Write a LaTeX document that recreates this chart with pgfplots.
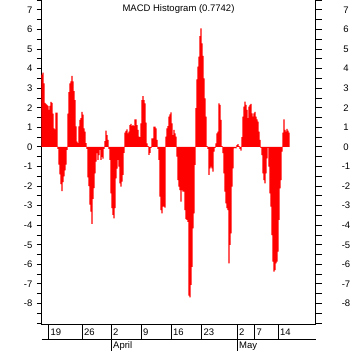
\documentclass[border=0pt]{standalone}
\usepackage{pgfplots}
\pgfplotsset{compat=1.18}
\usepackage{pgfplotstable}
\usepackage{fontspec}
\setmainfont{Liberation Sans}
\pgfplotstableread{
x y
41 3.7
42 3.7
43 3.8
44 3.25
45 2.25
46 2.2
47 2.15
48 2.1
49 1.9
50 2.1
51 2.3
52 2.25
53 1.7
54 0.95
55 0.9
56 1.75
57 1.75
58 -0.1
59 -0.9
60 -1.4
61 -1.9
62 -2.25
63 -1.8
64 -1.5
65 -1.2
66 -0.9
67 -0.15
68 1.7
69 2.8
70 3.25
71 3.35
72 3.63
73 3.35
74 2.85
75 2.4
76 1.05
77 0.27
78 0.2
79 1.05
80 1.38
81 1.47
82 1.8
83 1.65
84 0.95
85 0.78
86 0.2
87 -0.1
88 -1.55
89 -2.0
90 -2.95
91 -3.3
92 -3.93
93 -2.65
94 -2.1
95 -1.35
96 -0.75
97 -0.32
98 -0.66
99 -0.41
100 -0.15
101 -0.66
102 -0.5
103 -0.6
104 -0.1
105 0.3
106 0.83
107 0.61
108 0.36
109 -0.1
110 -0.66
111 -2.37
112 -3.13
113 -3.47
114 -3.65
115 -3.13
116 -1.6
117 -1.1
118 -0.66
119 -1.0
120 -1.86
121 -2.03
122 -1.77
123 -1.43
124 -0.3
125 0.73
126 0.82
127 0.9
128 0.7
129 0.78
130 1.12
131 1.18
132 1.07
133 1.12
134 1.07
135 1.41
136 1.41
137 1.12
138 0.87
139 0.53
140 0.5
141 1.2
142 2.4
143 2.6
144 2.4
145 2.23
146 1.24
147 0.19
148 0.05
149 -0.4
150 -0.3
151 -0.05
152 0.44
153 0.44
154 1.04
155 1.04
156 0.95
157 0.36
158 -0.1
159 -0.66
160 -2.54
161 -3.22
162 -3.39
163 -3.05
164 -3.05
165 -3.1
166 0.53
167 0.95
168 1.07
169 1.55
170 1.67
171 1.77
172 1.21
173 0.61
174 0.87
175 0.7
176 0.53
177 -0.49
178 -1.69
179 -2.03
180 -2.2
181 -2.79
182 -2.2
183 -2.28
184 -2.28
185 -3.22
186 -3.68
187 -3.73
188 -3.82
189 -7.6
190 -7.68
191 -7.05
192 -6.12
193 -4.16
194 -3.39
195 -0.92
196 1.98
197 3.46
198 4.1
199 4.62
200 5.67
201 6.06
202 5.3
203 4.65
204 3.51
205 2.49
206 1.55
207 0.05
208 -0.1
209 -1.43
210 -1.09
211 -1.0
212 -1.09
213 -1.26
214 -0.24
215 -0.05
216 0.19
217 0.7
218 0.78
219 2.23
220 2.15
221 1.38
222 0.05
223 -0.32
224 -1.35
225 -2.28
226 -2.88
227 -3.13
228 -3.22
229 -5.95
230 -5.0
231 -4.41
232 -2.03
233 -1.09
234 -0.07
235 -0.05
236 -0.07
237 0.1
238 0.15
239 0.05
240 -0.1
241 -0.19
242 0.5
243 1.55
244 2.06
245 2.32
246 2.15
247 1.89
248 1.47
249 2.06
250 2.15
251 2.2
252 1.72
253 1.55
254 1.72
255 1.8
256 1.55
257 1.41
258 1.29
259 0.78
260 0.36
261 -0.05
262 -0.41
263 -1.35
264 -1.69
265 -1.86
266 -1.35
267 -0.58
268 -0.05
269 -1.0
270 -2.37
271 -3.05
272 -4.5
273 -5.86
274 -6.37
275 -6.29
276 -5.95
277 -5.86
278 -5.35
279 -3.73
280 -2.11
281 -1.69
282 -0.24
283 0.73
284 1.41
285 0.87
286 0.78
287 0.92
288 0.83
289 0.73
}\macd

\pgfplotsset{
  common/.style={
    at={(41.5pt,26pt)}, anchor=south west, scale only axis,
    width=274pt, height=325pt,
    xmin=41.5, xmax=315.5, ymin=-9.095, ymax=7.51,
    xtick=\empty,
    ytick={-8,-7,...,7}, minor ytick={-9,-8.5,...,7.5},
    tick align=outside,
    axis line style={-, line width=1pt, black},
    every tick/.style={black, line width=1pt},
    every minor tick/.style={black, line width=1pt},
    /pgf/number format/assume math mode=true,
    yticklabel style={font=\fontsize{9.5}{11}\selectfont, inner sep=0pt},
  }
}

\begin{document}
\begin{tikzpicture}[x=1pt,y=1pt]
\path[use as bounding box] (0,0) rectangle (357,351);
\begin{axis}[common,
  axis x line*=bottom, axis y line*=left,
  major tick length=4.5pt, minor tick length=4.5pt,
  yticklabel style={anchor=east, xshift=-4.5pt},
  every axis title shift=0pt,
  title={MACD Histogram (0.7742)},
  title style={at={(0.5,1)}, anchor=north, inner sep=0pt, yshift=-4pt, font=\fontsize{9.5}{11}\selectfont},
]
\addplot[ybar, bar width=1.05, fill=red, draw=none] table {\macd};
\end{axis}
\begin{axis}[common,
  axis y line*=right, axis x line=none,
  major tick length=6pt, minor tick length=6pt,
  yticklabel style={anchor=center, xshift=24.5pt},
]
\end{axis}
\draw[line width=1pt] (41.5,11.5) -- (315.5,11.5);
\foreach \xx/\lab in {48.3/19, 82/26, 111/2, 141/9, 171/16, 201.3/23, 237/2, 254.3/7, 278/14} {
  \draw[line width=1pt] (\xx,26) -- (\xx,11.5);
  \node[anchor=west, inner sep=0pt, font=\fontsize{9.5}{11}\selectfont] at ({\xx+2},18.5) {\lab};
}
\foreach \xx/\lab in {111/April, 237/May} {
  \draw[line width=1pt] (\xx,11.5) -- (\xx,0);
  \node[anchor=west, inner sep=0pt, font=\fontsize{9.5}{11}\selectfont] at ({\xx+2},4.5) {\lab};
}
\end{tikzpicture}
\end{document}
